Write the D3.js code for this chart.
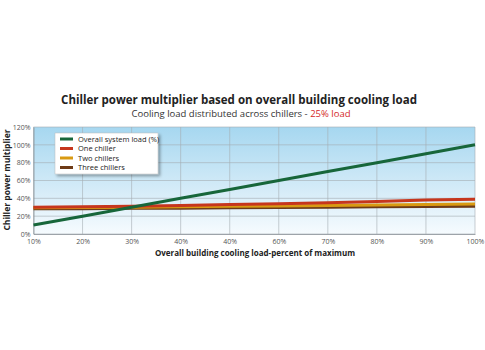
<!DOCTYPE html>
<html><head><meta charset="utf-8">
<script src="https://cdn.jsdelivr.net/npm/d3@7/dist/d3.min.js"></script>
<style>body{margin:0;background:#fff}svg{display:block}</style>
</head><body>
<svg id="c" width="485" height="350"></svg>
<script>
const xValues = [10,20,30,40,50,60,70,80,90,100];
const xTickLabels = ["10%","20%","30%","40%","40%","60%","70%","80%","90%","100%"];
const yTicks = [0,20,40,60,80,100,120];
const yTickLabels = ["0%","20%","40%","60%","80%","100%","120%"];
const seriesNames = ["Overall system load (%)","One chiller","Two chillers","Three chillers"];
const overallLoad = [10,20,30,40,50,60,70,80,90,100];
const oneChiller = [30,30.5,31,32,33,34,35,36.5,38,39];
const twoChillers = [29.5,29.8,30,30.5,31,31.5,32,32.5,33,33.6];
const threeChillers = [29,29,29.3,29.5,30,30.3,30.6,31,31.3,31.7];
const colors = ["#17663a","#c6361d","#d99a12","#6e3b17"];

const svg = d3.select("#c");
const M = {l:33.5, r:475, t:127, b:234};
const x = d3.scaleLinear().domain([10,100]).range([M.l,M.r]);
const y = d3.scaleLinear().domain([0,120]).range([M.b,M.t]);

const defs = svg.append("defs");
const g = defs.append("linearGradient").attr("id","bg").attr("x1",0).attr("y1",0).attr("x2",0).attr("y2",1);
g.append("stop").attr("offset","0%").attr("stop-color","#a6d7f0");
g.append("stop").attr("offset","60%").attr("stop-color","#d6ecf8");
g.append("stop").attr("offset","100%").attr("stop-color","#f6fbfe");
const f = defs.append("filter").attr("id","sh").attr("x","-10%").attr("y","-10%").attr("width","130%").attr("height","140%");
f.append("feDropShadow").attr("dx",2).attr("dy",2).attr("stdDeviation",1.5).attr("flood-color","#000").attr("flood-opacity",0.35);

svg.append("rect").attr("x",M.l).attr("y",M.t).attr("width",M.r-M.l).attr("height",M.b-M.t).attr("fill","url(#bg)");

// grid
svg.append("g").selectAll("line").data(yTicks).join("line")
  .attr("x1",M.l).attr("x2",M.r).attr("y1",d=>y(d)).attr("y2",d=>y(d))
  .attr("stroke","#a4acb2").attr("stroke-width",0.6);
svg.append("g").selectAll("line").data(xValues).join("line")
  .attr("y1",M.t).attr("y2",M.b).attr("x1",d=>x(d)).attr("x2",d=>x(d))
  .attr("stroke","#a4acb2").attr("stroke-width",0.6);

// axes
const xa = svg.append("g").attr("transform",`translate(0,${M.b})`)
  .call(d3.axisBottom(x).tickValues(xValues).tickFormat((d,i)=>xTickLabels[i]).tickSize(0).tickPadding(5));
const ya = svg.append("g").attr("transform",`translate(${M.l},0)`)
  .call(d3.axisLeft(y).tickValues(yTicks).tickFormat((d,i)=>yTickLabels[i]).tickSize(0).tickPadding(3));
[xa,ya].forEach(a=>{
  a.select(".domain").attr("stroke","#8a9298").attr("stroke-width",0.8);
  a.selectAll("text").attr("font-family","Open Sans, sans-serif").attr("font-size",7).attr("fill","#555");
});

// lines
const line = d3.line().x((d,i)=>x(xValues[i])).y(d=>y(d));
const data = [overallLoad, oneChiller, twoChillers, threeChillers];
const order = [3,2,1,0];
const widths = [3,3,3,4];
order.forEach(k=>{
  svg.append("path").datum(data[k]).attr("d",line).attr("fill","none")
    .attr("stroke",colors[k]).attr("stroke-width",widths[k]).attr("stroke-linecap","butt");
});

// legend
const lg = svg.append("g").attr("transform","translate(55,133)");
lg.append("rect").attr("width",103).attr("height",41).attr("fill","#fff").attr("stroke","#bbb").attr("stroke-width",0.5).attr("filter","url(#sh)");
seriesNames.forEach((n,i)=>{
  const yy = 6+i*9.5;
  lg.append("line").attr("x1",5).attr("x2",18).attr("y1",yy).attr("y2",yy).attr("stroke",colors[i]).attr("stroke-width",3);
  lg.append("text").attr("x",23).attr("y",yy+2.7).text(n).attr("font-family","Open Sans, sans-serif").attr("font-size",7.5).attr("fill","#222");
});

// titles
svg.append("text").attr("x",239).attr("y",104).attr("text-anchor","middle")
  .attr("font-family","Open Sans, sans-serif").attr("font-weight","bold").attr("font-size",11.5).attr("fill","#222")
  .text("Chiller power multiplier based on overall building cooling load");
const st = svg.append("text").attr("x",241).attr("y",117).attr("text-anchor","middle")
  .attr("font-family","Open Sans, sans-serif").attr("font-size",9.5).attr("fill","#333");
st.append("tspan").text("Cooling load distributed across chillers - ");
st.append("tspan").attr("fill","#d42a2a").text("25% load");

svg.append("text").attr("x",255).attr("y",256).attr("text-anchor","middle")
  .attr("font-family","Open Sans, sans-serif").attr("font-weight","bold").attr("font-size",8).attr("fill","#222")
  .text("Overall building cooling load-percent of maximum");
svg.append("text").attr("transform","translate(10,180) rotate(-90)").attr("text-anchor","middle")
  .attr("font-family","Open Sans, sans-serif").attr("font-weight","bold").attr("font-size",8.5).attr("fill","#222")
  .text("Chiller power multiplier");
</script>
</body></html>
